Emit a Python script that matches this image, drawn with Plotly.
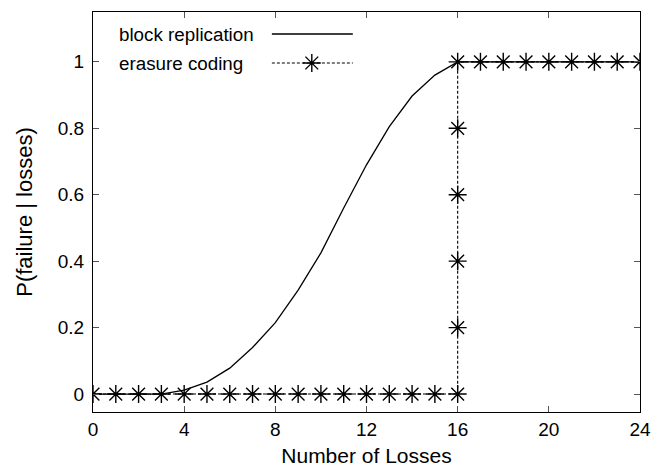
import plotly.graph_objects as go

# ---- data ----
block_x = list(range(0, 25))
block_y = [0, 0, 0, 0, 0.012, 0.036, 0.078, 0.14, 0.215, 0.313, 0.425, 0.56, 0.69,
           0.805, 0.897, 0.96, 1.0, 1, 1, 1, 1, 1, 1, 1, 1]

erasure_x = list(range(0, 17)) + [16, 16, 16, 16, 16] + list(range(17, 25))
erasure_y = [0] * 17 + [0.2, 0.4, 0.6, 0.8, 1.0] + [1] * 8

x_ticks = [0, 4, 8, 12, 16, 20, 24]
y_ticks = [0, 0.2, 0.4, 0.6, 0.8, 1]
y_tick_labels = ["0", "0.2", "0.4", "0.6", "0.8", "1"]

legend_names = ["block replication", "erasure coding"]

FONT = "Liberation Sans, Arial, Helvetica, sans-serif"

fig = go.Figure()

fig.add_trace(go.Scatter(
    x=block_x, y=block_y, mode="lines",
    line=dict(color="black", width=1.3),
    showlegend=False, name=legend_names[0]))

fig.add_trace(go.Scatter(
    x=erasure_x, y=erasure_y, mode="lines+markers",
    line=dict(color="black", width=1.1, dash="3px,2px"),
    marker=dict(symbol="asterisk-open", size=15, color="black",
                line=dict(color="black", width=1.4)),
    showlegend=False, name=legend_names[1]))

# legend samples drawn on a hidden overlay axis (0..1 in plot-area fractions)
leg_x0, leg_x1, leg_xm = 0.327, 0.475, 0.40
leg_rows = [0.945, 0.8725]
fig.add_trace(go.Scatter(
    x=[leg_x0, leg_x1], y=[leg_rows[0]] * 2, mode="lines",
    line=dict(color="black", width=1.3), xaxis="x2", yaxis="y2",
    showlegend=False, hoverinfo="skip"))
fig.add_trace(go.Scatter(
    x=[leg_x0, leg_x1], y=[leg_rows[1]] * 2, mode="lines",
    line=dict(color="black", width=1.1, dash="3px,2px"), xaxis="x2", yaxis="y2",
    showlegend=False, hoverinfo="skip"))
fig.add_trace(go.Scatter(
    x=[leg_xm], y=[leg_rows[1]], mode="markers",
    marker=dict(symbol="asterisk-open", size=15, color="black",
                line=dict(color="black", width=1.4)),
    xaxis="x2", yaxis="y2", showlegend=False, hoverinfo="skip"))

annotations = []
for name, ry in zip(legend_names, leg_rows):
    annotations.append(dict(
        x=0.044, y=ry, xref="x2", yref="y2", text=name, showarrow=False,
        xanchor="left", yanchor="middle",
        font=dict(family=FONT, size=18.8, color="black")))

axis_common = dict(
    showgrid=False, zeroline=False, ticks="inside", ticklen=6, tickwidth=1,
    tickcolor="#555555", showline=True, linecolor="black", linewidth=1.3,
    mirror="allticks", automargin=False,
    tickfont=dict(family=FONT, size=19, color="black"))

fig.update_layout(
    width=657, height=469,
    margin=dict(l=93, r=17, t=12, b=57),
    paper_bgcolor="white", plot_bgcolor="white",
    xaxis=dict(range=[0, 24], tickvals=x_ticks, ticklabelstandoff=0,
               title=dict(text="Number of Losses", standoff=9,
                          font=dict(family=FONT, size=21, color="black")),
               **axis_common),
    yaxis=dict(range=[-0.054, 1.15], tickvals=y_ticks, ticktext=y_tick_labels,
               ticklabelstandoff=4,
               title=dict(text="P(failure | losses)", standoff=18,
                          font=dict(family=FONT, size=22, color="black")),
               **axis_common),
    xaxis2=dict(overlaying="x", range=[0, 1], visible=False, fixedrange=True),
    yaxis2=dict(overlaying="y", range=[0, 1], visible=False, fixedrange=True),
    annotations=annotations,
    showlegend=False,
)

fig.write_html("out.html")
